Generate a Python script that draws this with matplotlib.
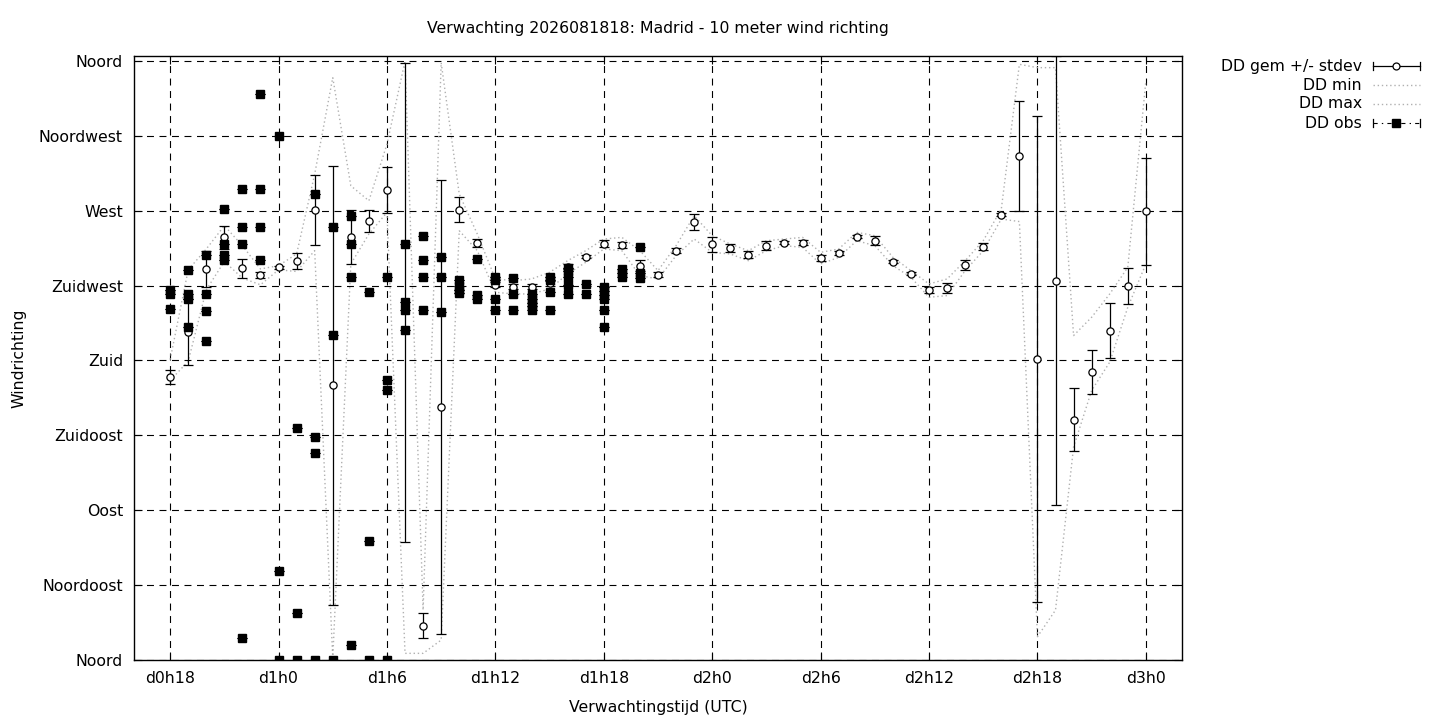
import matplotlib
matplotlib.use("Agg")
import matplotlib.pyplot as plt
import numpy as np

plt.rcParams['font.family'] = ['DejaVu Sans']
plt.rcParams['lines.scale_dashes'] = False

# ---- data (hours since d0h0) ----
hours = list(range(18, 73))

gem_mean = [170, 197, 235, 254, 235.5, 231.3, 236, 239.8, 270.5, 165,
            254.2, 264, 282.5, 215, 20.6, 152, 270.6, 250.8, 225.5, 224.3,
            224.3, 226.3, 236.3, 242.3, 250.3, 249.5, 236.9, 231.5, 245.9, 263.4,
            249.9, 247.7, 243.7, 249.1, 250.8, 250.8, 241.6, 244.7, 254.4, 252.1,
            239.3, 232.1, 222.3, 223.5, 237.1, 248.5, 267.6, 303, 181, 228,
            144.4, 173.3, 198, 224.5, 269.6]

gem_std = [4, 20, 11, 6.8, 5.7, 1.7, 1, 4.8, 21, 132,
           16.3, 6.5, 13.7, 144, 7.4, 136.5, 7.6, 2.5, 1.5, 1.5,
           1.5, 1.5, 1.5, 1, 2, 2, 3.2, 1.5, 1.5, 4.7,
           4.5, 2.5, 2, 2.5, 1, 1.5, 2, 1, 1, 2.5,
           1, 1, 2, 3, 3, 2, 1, 33, 146, 135,
           19, 13.3, 16.8, 10.8, 32.3]

gem_min = [168, 179.5, 222.5, 239.5, 229.5, 225.5, 234.5, 233.5, 246, 1,
           238, 256, 269, 4, 4, 12, 258, 246, 221, 220,
           220, 223, 232, 239, 247, 246, 231, 229, 243, 253,
           245, 244, 240, 246, 249, 248, 238, 242, 252, 249,
           237, 230, 218, 219, 234, 246, 265, 263.5, 14, 30,
           128, 162, 179, 212, 238]

gem_max = [180.5, 234.5, 247, 261, 249, 235, 237, 244, 292, 350,
           285, 276, 310, 360, 30, 359, 280, 256, 229, 228,
           229, 233, 240, 246, 253, 254, 246, 234, 249, 267,
           255, 250, 246, 252, 253, 254, 245, 247, 257, 255,
           242, 234, 226, 229, 240, 252, 271, 358, 356, 356,
           195, 206, 220, 236, 348]

obs_hour = ([18] * 3 + [19] * 4 + [20] * 4 + [21] * 4 + [22] * 4 + [23] * 4 +
            [24] * 3 + [25] * 3 + [26] * 4 + [27] * 3 + [28] * 4 + [29] * 3 +
            [30] * 4 + [31] * 4 + [32] * 4 + [33] * 3 + [34] * 4 + [35] * 3 +
            [36] * 4 + [37] * 3 + [38] * 5 + [39] * 4 + [40] * 5 + [41] * 2 +
            [42] * 6 + [43] * 3 + [44] * 3)
obs_dir = [222.3, 219.9, 210.8,
           234.6, 220, 217, 200.2,
           243.7, 219.7, 210, 192,
           270.8, 250, 243.5, 240.3,
           283.3, 260.4, 250.2, 13,
           340.4, 283.3, 260.4, 240.5,
           315, 53.4, 0,
           139.4, 28.1, 0,
           280.3, 134, 124.4, 0,
           260.3, 195.2, 0,
           267, 250.1, 230.4, 9.2,
           221.2, 71.8, 0,
           230.4, 168.3, 162.3, 0,
           250.1, 215.1, 210.5, 198.4,
           255.1, 240.3, 230.4, 210.5,
           242.3, 230.4, 209.2,
           228.5, 225, 222.5, 220.3,
           241.2, 219.5, 216.8,
           230.3, 228.3, 217.1, 210.6,
           229.5, 220.1, 210.6,
           220.1, 217, 214.5, 212.6, 210.6,
           230.3, 228.5, 221.3, 210.6,
           235.7, 233.5, 230.3, 225.3, 220.1,
           226.1, 220.1,
           224, 222, 219.5, 217, 210.6, 200.2,
           234.7, 232.7, 230.3,
           248.3, 232.7, 229.7]

xtick_hours = [18, 24, 30, 36, 42, 48, 54, 60, 66, 72]
xtick_labels = ['d0h18', 'd1h0', 'd1h6', 'd1h12', 'd1h18', 'd2h0', 'd2h6',
                'd2h12', 'd2h18', 'd3h0']
ytick_deg = [0, 45, 90, 135, 180, 225, 270, 315, 360]
ytick_labels = ['Noord', 'Noordoost', 'Oost', 'Zuidoost', 'Zuid', 'Zuidwest',
                'West', 'Noordwest', 'Noord']

title = 'Verwachting 2026081818: Madrid - 10 meter wind richting'
legend_labels = ['DD gem +/- stdev', 'DD min', 'DD max', 'DD obs']

FS = 11.3

# ---- figure ----
fig = plt.figure(figsize=(14.4, 7.2), dpi=100)
ax = fig.add_axes([134 / 1440, 1 - 660 / 720, (1182 - 134) / 1440, (660 - 56) / 720])

ax.set_xlim(16, 74)
ax.set_ylim(0, 363)

grid_style = dict(color='black', lw=0.8, linestyle=(0, (5, 4)), zorder=1)
for xh in xtick_hours:
    ax.axvline(xh, **grid_style)
for yd in ytick_deg:
    ax.axhline(yd, **grid_style)

dot_style = dict(color='#b0b0b0', lw=1.0, linestyle=(0, (1, 2)), zorder=2)
ax.plot(hours, gem_min, **dot_style)
ax.plot(hours, gem_max, **dot_style)

ax.errorbar(obs_hour, obs_dir, yerr=np.zeros(len(obs_dir)), fmt='s',
            color='black', ms=6, mfc='black', mec='black',
            elinewidth=0.8, capsize=3.5, capthick=0.8, zorder=4)

ax.errorbar(hours, gem_mean, yerr=gem_std, fmt='o', color='black',
            ms=5.2, mfc='white', mec='black', mew=0.9,
            elinewidth=0.9, capsize=3.5, capthick=0.9, zorder=3)

ax.set_xticks(xtick_hours)
ax.set_xticklabels(xtick_labels, fontsize=FS)
ax.set_yticks(ytick_deg)
ax.set_yticklabels(ytick_labels, fontsize=FS)
ax.tick_params(direction='in', length=6, width=0.8, top=True, right=True,
               pad=8)
for s in ax.spines.values():
    s.set_linewidth(1.0)

ax.set_xlabel('Verwachtingstijd (UTC)', fontsize=FS, labelpad=10)
ax.set_ylabel('Windrichting', fontsize=FS, labelpad=9)
fig.text(658 / 1440, 1 - 29 / 720, title, ha='center', va='center', fontsize=FS)

# ---- legend (drawn in pixel space, outside plot) ----
lax = fig.add_axes([0, 0, 1, 1])
lax.set_xlim(0, 1440)
lax.set_ylim(720, 0)
lax.axis('off')
ly = [66, 85, 104, 123]
for yy, lab in zip(ly, legend_labels):
    lax.text(1362, yy, lab, ha='right', va='center', fontsize=FS)
x0, x1 = 1373, 1420
# gem
lax.plot([x0, x1], [ly[0], ly[0]], color='black', lw=0.9)
lax.plot([x0, x0], [ly[0] - 4, ly[0] + 4], color='black', lw=0.9)
lax.plot([x1, x1], [ly[0] - 4, ly[0] + 4], color='black', lw=0.9)
lax.plot([1396], [ly[0]], 'o', ms=5, mfc='white', mec='black', mew=0.9)
# min / max
lax.plot([x0, x1], [ly[1], ly[1]], **dot_style)
lax.plot([x0, x1], [ly[2], ly[2]], **dot_style)
# obs
lax.plot([x0, x1], [ly[3], ly[3]], color='black', lw=0.8, linestyle=(0, (3, 3, 1, 3)))
lax.plot([x0, x0], [ly[3] - 4, ly[3] + 4], color='black', lw=0.9)
lax.plot([x1, x1], [ly[3] - 4, ly[3] + 4], color='black', lw=0.9)
lax.plot([1396], [ly[3]], 's', ms=6, color='black')

fig.savefig('out.png', dpi=100)
